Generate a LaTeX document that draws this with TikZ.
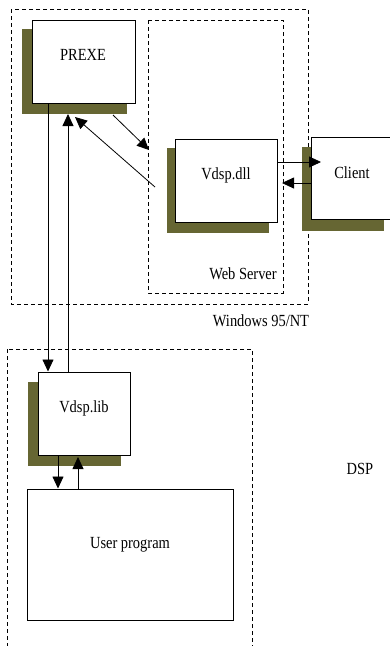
\documentclass[tikz,border=0pt]{standalone}
\usepackage{fontspec}
\setmainfont{Liberation Serif}[FakeStretch=0.85]
\usetikzlibrary{arrows.meta}
\definecolor{shadowolive}{RGB}{102,102,51}
\tikzset{
  boxnode/.style={draw=black, line width=1pt, fill=white, inner sep=0pt, minimum width=#1},
  shadowfill/.style={fill=shadowolive, draw=none},
  dashbox/.style={draw=black, line width=0.9pt, dash pattern=on 4pt off 3pt},
  arr/.style={draw=black, line width=0.8pt, -{Triangle[length=12pt,width=11pt]}},
  lbl/.style={font=\fontsize{17}{20}\selectfont, inner sep=0pt}
}
\begin{document}
\begin{tikzpicture}[x=1pt,y=-1pt]
\useasboundingbox (0,0) rectangle (390,646);
% dashed containers
\draw[dashbox] (11,9) rectangle (308,304);
\draw[dashbox] (148,20) rectangle (283,293);
\draw[dashbox] (7,349) rectangle (252,660);
% shadows
\fill[shadowfill] (22,29) rectangle (127,114);
\fill[shadowfill] (167,148) rectangle (269,233);
\fill[shadowfill] (302,147) rectangle (384,231);
\fill[shadowfill] (28,382) rectangle (121,466);
% boxes
\node[boxnode=103pt, minimum height=83pt] (prexe) at (83.5,61.5) {};
\node[boxnode=102pt, minimum height=83pt] (dll) at (226,180.5) {};
\node[boxnode=90pt, minimum height=82pt] (client) at (356,178) {};
\node[boxnode=92pt, minimum height=83pt] (lib) at (84,413.5) {};
\node[boxnode=206pt, minimum height=131pt] (user) at (130,554.5) {};
% labels
\node[lbl] (tprexe) at (83,55) {PREXE};
\node[lbl] (tdll) at (226,175) {Vdsp.dll};
\node[lbl] (tclient) at (352,173) {Client};
\node[lbl] (tlib) at (84,408) {Vdsp.lib};
\node[lbl] (tuser) at (130,545) {User program};
\node[lbl] (tweb) at (243,274) {Web Server};
\node[lbl] (twin) at (261,321) {Windows 95/NT};
\node[lbl] (tdsp) at (360,469) {DSP};
% connectors
\draw[arr] (prexe.south -| 48,0) -- (lib.north -| 48,0);
\draw[arr] (lib.north -| 68,0) -- (68,114);
\draw[arr] (113,115) -- (149,150);
\draw[arr] (155,187) -- (75,117);
\draw[arr] (dll.east |- 0,162) -- (321,162);
\draw[arr] (client.west |- 0,183) -- (282,183);
\draw[arr] (lib.south -| 58,0) -- (user.north -| 58,0);
\draw[arr] (user.north -| 78,0) -- (78,457);
\end{tikzpicture}
\end{document}
